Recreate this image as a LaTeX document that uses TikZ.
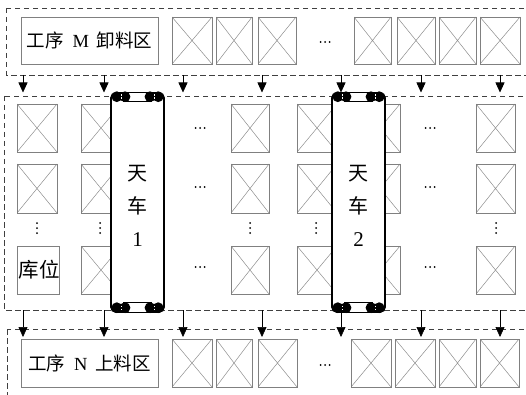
\documentclass[tikz,border=0pt]{standalone}
\usepackage{fontspec}
\setmainfont{Liberation Serif}
\newfontfamily\cjk{Noto Sans CJK SC}
\usetikzlibrary{arrows.meta}
\tikzset{
  cell/.style={draw=black!50, line width=0.8pt, inner sep=0pt, outer sep=0pt, anchor=north west,
    path picture={\draw[black!45, line width=0.5pt]
      (path picture bounding box.north west) -- (path picture bounding box.south east)
      (path picture bounding box.north east) -- (path picture bounding box.south west);}},
  labelbox/.style={draw=black!50, line width=0.8pt, inner sep=0pt, outer sep=0pt, anchor=north west},
  zone/.style={draw=black!75, line width=0.7pt, dash pattern=on 5.5pt off 3.5pt},
  feed/.style={draw=black, line width=0.6pt, -{Triangle[length=10pt,width=9pt]}},
  cranebody/.style={draw=black, line width=1.8pt, rounded corners=5pt, fill=white, inner sep=0pt, outer sep=0pt, anchor=north west},
  wheel/.style={fill=black},
  gap/.style={draw=white, line width=0.7pt},
  beam/.style={draw=black, line width=1.3pt, fill=white},
  hd/.pic={\fill (-4.5,0) circle (1) (0,0) circle (1) (4.5,0) circle (1);},
  vd/.pic={\fill (0,-5) circle (1) (0,0) circle (1) (0,5) circle (1);}
}
\newcommand\mycell[5]{\node[cell, minimum width=#4, minimum height=#5] (#1) at (#2,#3) {};}
\begin{document}
\begin{tikzpicture}[x=1pt,y=-1pt]
\useasboundingbox (0,0) rectangle (526,395);
\clip (0,0) rectangle (526,395);
% zones
\draw[zone] (6,8) rectangle (540,75);
\draw[zone] (4,96) rectangle (540,310);
\draw[zone] (7,329) rectangle (540,410);
% top row
\node[labelbox, minimum width=137, minimum height=47] (mout) at (21,17) {};
\node[font=\fontsize{18.5}{20}\selectfont] (mtext) at (mout.center) {{\cjk 工序}\hspace{9pt}M\hspace{8pt}{\cjk 卸料区}};
\mycell{t1}{172}{17}{40}{47}
\mycell{t2}{216}{17}{36}{47}
\mycell{t3}{258}{17}{38}{47}
\mycell{t4}{354}{17}{37}{47}
\mycell{t5}{397}{17}{38}{47}
\mycell{t6}{439}{17}{37}{47}
\mycell{t7}{480}{17}{40}{47}
\pic at (325,42) {hd};
% bottom row
\node[labelbox, minimum width=137, minimum height=48] (nin) at (21,339) {};
\node[font=\fontsize{18.5}{20}\selectfont] (ntext) at (nin.center) {{\cjk 工序}\hspace{9pt}N\hspace{8pt}{\cjk 上料区}};
\mycell{b1}{172}{339}{40}{48}
\mycell{b2}{216}{339}{36}{48}
\mycell{b3}{258}{339}{39}{48}
\mycell{b4}{351}{339}{40}{48}
\mycell{b5}{395}{339}{40}{48}
\mycell{b6}{439}{339}{37}{48}
\mycell{b7}{480}{339}{39}{48}
\pic at (325,365) {hd};
% storage grid
\mycell{g11}{17}{104}{40}{48}
\mycell{g21}{17}{164}{40}{49}
\node[labelbox, minimum width=42, minimum height=48] (kw) at (17,246) {};
\node[font=\cjk\fontsize{20.5}{22}\selectfont] (kwtext) at (39,270) {库位};
\foreach \c/\x/\w in {2/81/40, 3/231/38, 4/297/40, 5/360/40, 6/476/39}{
  \mycell{g1\c}{\x}{104}{\w}{48}
  \mycell{g2\c}{\x}{164}{\w}{49}
  \mycell{g3\c}{\x}{246}{\w}{48}
}
\foreach \x in {37,100,250,316,496} \pic at (\x,228) {vd};
\foreach \y in {128,187,267} {\pic at (200,\y) {hd}; \pic at (430,\y) {hd};}
% cranes
\foreach \k/\dx in {1/0, 2/221}{
  \begin{scope}[xshift=\dx pt]
  \node[cranebody, minimum width=53, minimum height=219] (crane\k) at (111,93) {};
  \draw[beam] (124,92.3) rectangle (151,101.2);
  \draw[beam] (124,302.8) rectangle (151,312.6);
  \foreach \cx in {116.8,125,150,158.2}{
    \fill[wheel] (\cx,96.7) circle (5.4);
    \fill[wheel] (\cx,307.7) circle (5.4);
  }
  \foreach \cx in {120.9,154.1}{
    \draw[gap] (\cx,94.5) -- (\cx,96) (\cx,97.5) -- (\cx,99);
    \draw[gap] (\cx,305.5) -- (\cx,307) (\cx,308.5) -- (\cx,310);
  }
  \end{scope}
}
\node[font=\cjk\fontsize{20}{33}\selectfont, align=center] (c1text) at (137.5,206) {天\\车\\{\rmfamily\fontsize{21}{33}\selectfont 1}};
\node[font=\cjk\fontsize{20}{33}\selectfont, align=center] (c2text) at (358.5,206) {天\\车\\{\rmfamily\fontsize{21}{33}\selectfont 2}};
% feed arrows
\foreach \i/\x in {1/23,2/104,3/183,4/262,5/341,6/421,7/500}{
  \coordinate (ts\i) at (\x,75);
  \coordinate (te\i) at (\x,92.5);
  \coordinate (bs\i) at (\x,310);
  \coordinate (be\i) at (\x,337);
  \draw[feed] (ts\i) -- (te\i);
  \draw[feed] (bs\i) -- (be\i);
}
\end{tikzpicture}
\end{document}
